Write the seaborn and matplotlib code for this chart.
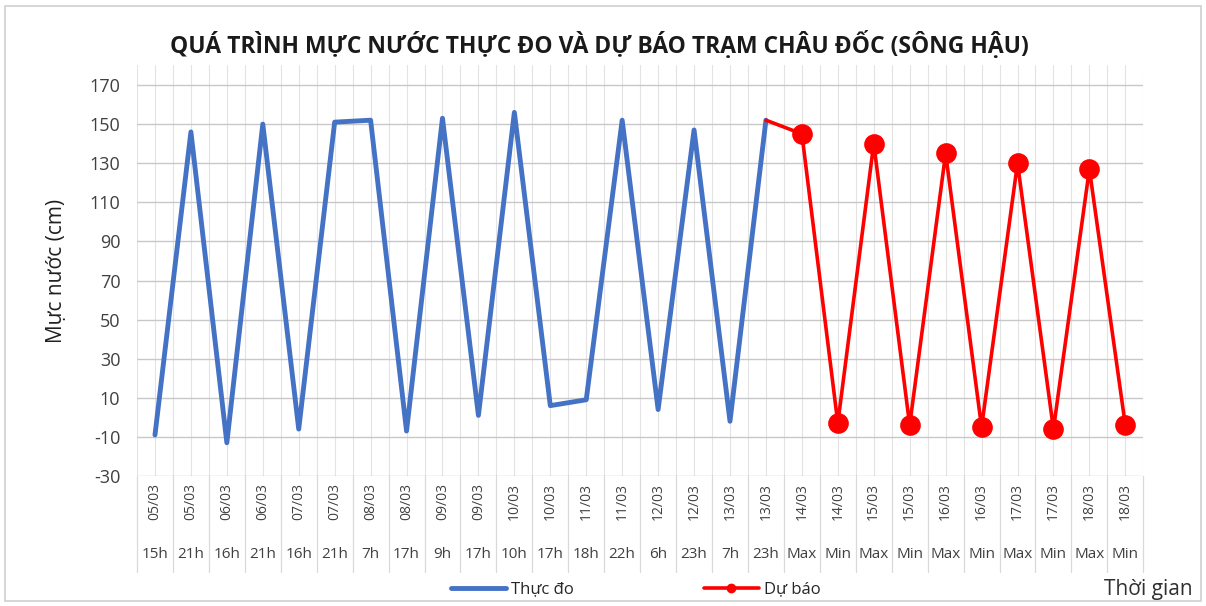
import numpy as np
import pandas as pd
import matplotlib.pyplot as plt
import matplotlib.transforms as mtransforms
from matplotlib.lines import Line2D
import seaborn as sns

# category labels (two levels: date / hour)
dates = ["05/03", "05/03", "06/03", "06/03", "07/03", "07/03", "08/03", "08/03",
         "09/03", "09/03", "10/03", "10/03", "11/03", "11/03", "12/03", "12/03",
         "13/03", "13/03", "14/03", "14/03", "15/03", "15/03", "16/03", "16/03",
         "17/03", "17/03", "18/03", "18/03"]
hours = ["15h", "21h", "16h", "21h", "16h", "21h", "7h", "17h", "9h", "17h",
         "10h", "17h", "18h", "22h", "6h", "23h", "7h", "23h",
         "Max", "Min", "Max", "Min", "Max", "Min", "Max", "Min", "Max", "Min"]

# observed water level (cm)
observed = [-9, 146, -13, 150, -6, 151, 152, -7, 153, 1, 156, 6, 9, 152, 4, 147, -2, 152]
# forecast water level (cm), starting from last observation
forecast = [152, 145, -3, 140, -4, 135, -5, 130, -6, 127, -4]

n = len(dates)
obs_full = observed + [np.nan] * (n - len(observed))
fc_full = [np.nan] * (n - len(forecast)) + forecast
df = pd.DataFrame({"x": np.arange(n), "obs": obs_full, "fc": fc_full})
fc_pts = df.iloc[n - len(forecast) + 1:]

sns.set_theme(style="white")
plt.rcParams["font.family"] = ["Open Sans", "DejaVu Sans"]
plt.rcParams["axes.unicode_minus"] = False

blue = "#4472C4"
red = "#FF0000"

fig = plt.figure(figsize=(12.06, 6.06), dpi=100)
ax = fig.add_axes([0.1136, 0.2145, 0.8344, 0.6775])

# grid
for xv in np.arange(-0.5, n, 0.5):
    ax.axvline(xv, color="#e3e3e3", lw=0.8, zorder=0)
for yv in range(-30, 171, 20):
    ax.axhline(yv, color="#c8c8c8", lw=1.0, zorder=0)

sns.lineplot(data=df, x="x", y="obs", ax=ax, color=blue, lw=3.5, zorder=3)
sns.lineplot(data=df, x="x", y="fc", ax=ax, color=red, lw=2.6, zorder=4)
sns.scatterplot(data=fc_pts, x="x", y="fc", ax=ax, color=red, s=190,
                edgecolor=red, zorder=5)

ax.set_xlim(-0.5, n - 0.5)
ax.set_ylim(-30, 180)
ax.set_yticks(range(-30, 171, 20))
ax.tick_params(axis="y", labelsize=13, colors="#404040", length=0, pad=12)
ax.set_xticks([])
ax.set_xlabel("")
ax.set_ylabel("Mực nước (cm)", fontsize=15, color="#202020", labelpad=16)
for s in ax.spines.values():
    s.set_visible(False)

# two-level category labels under the axis
trans = mtransforms.blended_transform_factory(ax.transData, ax.transAxes)
for i in range(n):
    ax.text(i, -0.018, dates[i], transform=trans, rotation=90, ha="center",
            va="top", fontsize=10, color="#404040")
    ax.text(i, -0.192, hours[i], transform=trans, ha="center", va="center",
            fontsize=11, color="#404040")
for xv in np.arange(-0.5, n, 1.0):
    ax.plot([xv, xv], [0, -0.235], transform=trans, color="#d9d9d9",
            lw=0.9, clip_on=False)

fig.text(0.497, 0.926, "QUÁ TRÌNH MỰC NƯỚC THỰC ĐO VÀ DỰ BÁO TRẠM CHÂU ĐỐC (SÔNG HẬU)",
         ha="center", va="center", fontsize=16.5, fontweight="bold", color="#1a1a1a")
fig.text(0.952, 0.027, "Thời gian", ha="center", va="center", fontsize=15,
         color="#303030")

handles = [Line2D([], [], color=blue, lw=3.5),
           Line2D([], [], color=red, lw=2.6, marker="o", markersize=6)]
fig.legend(handles, ["Thực đo", "Dự báo"], loc="center", bbox_to_anchor=(0.527, 0.027),
           ncol=2, frameon=False, fontsize=12, handlelength=3.3, handletextpad=0.3,
           columnspacing=7.8)

# chart area border
fig.patches.append(plt.Rectangle((0.004, 0.008), 0.992, 0.982, transform=fig.transFigure,
                                 fill=False, edgecolor="#d0d0d0", lw=1.2))

fig.savefig("out.png", dpi=100)
